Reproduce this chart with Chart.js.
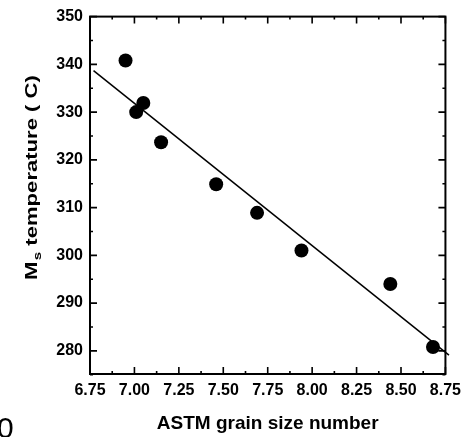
<!DOCTYPE html>
<html>
<head>
<meta charset="utf-8">
<script src="https://cdn.jsdelivr.net/npm/chart.js@4"></script>
<style>
html, body { margin: 0; padding: 0; background: #fff; }
</style>
</head>
<body>
<canvas id="myChart" width="468" height="437"></canvas>
<script>
// measured points
const grainSize = [6.95, 7.01, 7.05, 7.15, 7.46, 7.69, 7.94, 8.44, 8.68];
const msTemp = [340.8, 330.0, 331.9, 323.7, 314.9, 308.9, 301.0, 294.0, 280.8];
// fitted line end points
const fitX = [6.77, 8.77];
const fitY = [338.7, 279.1];
const xTicks = [6.75, 7.00, 7.25, 7.50, 7.75, 8.00, 8.25, 8.50, 8.75];
const yTicks = [280, 290, 300, 310, 320, 330, 340, 350];

const FONT = "'Liberation Sans', Arial, sans-serif";

// box + inward ticks + axis titles
const framePlugin = {
    id: 'frame',
    afterDraw(chart) {
        const ctx = chart.ctx;
        const a = chart.chartArea;
        const xs = chart.scales.x, ys = chart.scales.y;
        ctx.save();
        ctx.strokeStyle = '#000';
        ctx.lineWidth = 2;
        ctx.strokeRect(a.left, a.top, a.right - a.left, a.bottom - a.top);

        ctx.lineWidth = 1.6;
        ctx.beginPath();
        xTicks.forEach((v, i) => {
            const px = xs.getPixelForValue(v);
            ctx.moveTo(px, a.bottom); ctx.lineTo(px, a.bottom - 7);
            ctx.moveTo(px, a.top); ctx.lineTo(px, a.top + 7);
            if (i < xTicks.length - 1) {
                const m = xs.getPixelForValue((v + xTicks[i + 1]) / 2);
                ctx.moveTo(m, a.bottom); ctx.lineTo(m, a.bottom - 3);
                ctx.moveTo(m, a.top); ctx.lineTo(m, a.top + 3);
            }
        });
        yTicks.forEach((v, i) => {
            const py = ys.getPixelForValue(v);
            ctx.moveTo(a.left, py); ctx.lineTo(a.left + 7, py);
            ctx.moveTo(a.right, py); ctx.lineTo(a.right - 7, py);
            const m = ys.getPixelForValue(v - 5);
            ctx.moveTo(a.left, m); ctx.lineTo(a.left + 3, m);
            ctx.moveTo(a.right, m); ctx.lineTo(a.right - 3, m);
        });
        ctx.stroke();

        ctx.fillStyle = '#000';
        // x title
        ctx.font = 'bold 19px ' + FONT;
        ctx.textAlign = 'center';
        ctx.textBaseline = 'alphabetic';
        ctx.fillText('ASTM grain size number', (a.left + a.right) / 2, 429);

        // y title, with subscript s
        ctx.save();
        ctx.translate(37, 280);
        ctx.rotate(-Math.PI / 2);
        ctx.scale(1.38, 1);
        ctx.textAlign = 'left';
        ctx.font = 'bold 16px ' + FONT;
        ctx.fillText('M', 0, 0);
        let w = ctx.measureText('M').width + 1;
        ctx.font = 'bold 11px ' + FONT;
        ctx.fillText('s', w, 4);
        w += ctx.measureText('s').width;
        ctx.font = 'bold 16px ' + FONT;
        ctx.fillText(' temperature ( C)', w, 0);
        ctx.restore();

        // cut-off digit at the lower left corner
        ctx.font = '30px ' + FONT;
        ctx.textAlign = 'left';
        ctx.fillText('0', -3, 438);
        ctx.restore();
    }
};

const ctx = document.getElementById('myChart').getContext('2d');
new Chart(ctx, {
    type: 'scatter',
    data: {
        datasets: [{
            type: 'line',
            data: fitX.map((x, i) => ({ x: x, y: fitY[i] })),
            borderColor: '#000',
            borderWidth: 1.5,
            pointRadius: 0,
            clip: false
        }, {
            data: grainSize.map((x, i) => ({ x: x, y: msTemp[i] })),
            backgroundColor: '#000',
            borderWidth: 0,
            pointRadius: 7
        }]
    },
    options: {
        responsive: false,
        animation: false,
        layout: { padding: { top: 15, right: 20, left: 0, bottom: 0 } },
        plugins: { legend: { display: false }, tooltip: { enabled: false } },
        scales: {
            x: {
                type: 'linear',
                min: 6.75,
                max: 8.75,
                afterBuildTicks: s => { s.ticks = xTicks.map(v => ({ value: v })); },
                afterFit: s => { s.height = 63; },
                grid: { display: false, drawTicks: false },
                border: { display: false },
                ticks: {
                    callback: v => v.toFixed(2),
                    color: '#000',
                    font: { family: FONT, size: 16, weight: 'bold' },
                    padding: 7,
                    maxRotation: 0,
                    autoSkip: false
                }
            },
            y: {
                min: 275.15,
                max: 350,
                afterBuildTicks: s => { s.ticks = yTicks.map(v => ({ value: v })); },
                afterFit: s => { s.width = 90; },
                grid: { display: false, drawTicks: false },
                border: { display: false },
                ticks: {
                    color: '#000',
                    font: { family: FONT, size: 16, weight: 'bold' },
                    padding: 7
                }
            }
        }
    },
    plugins: [framePlugin]
});
</script>
</body>
</html>
